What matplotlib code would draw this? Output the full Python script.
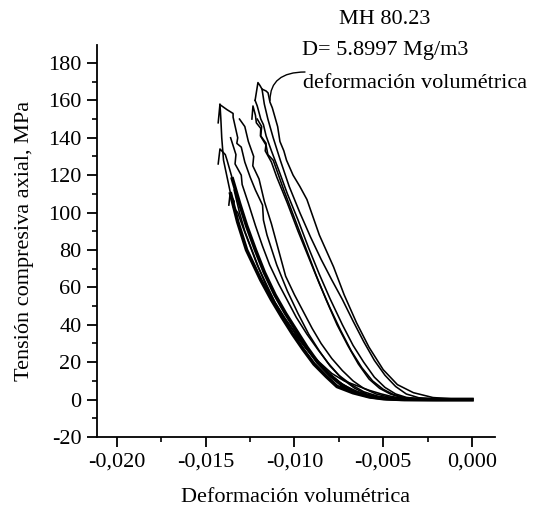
import matplotlib
matplotlib.use("Agg")
import matplotlib.pyplot as plt
from matplotlib.ticker import FuncFormatter, MultipleLocator

plt.rcParams['font.family'] = ['Liberation Serif', 'DejaVu Serif']
plt.rcParams['axes.unicode_minus'] = False

# ---- data: volumetric strain (x) and axial compressive stress, MPa (y) ----
# outer curve (peak ~170 MPa)
O_s = [-0.01222, -0.01206, -0.01195, -0.01183, -0.01160, -0.01149, -0.01138, -0.01125, -0.0111, -0.01095,
       -0.01082, -0.01060, -0.01045, -0.01008, -0.0097, -0.0093, -0.0086, -0.0078, -0.0072, -0.0065, -0.0058,
       -0.0050, -0.0042, -0.0033, -0.0022, -0.0010, 0.0]
O_y = [160, 169.5, 168, 166, 165, 164, 159, 156, 151, 146,
       138, 133, 128, 120, 114, 107, 88, 71, 56, 41, 28,
       16, 8, 3.7, 1.1, 0.3, 0]
# middle group
M1_s = [-0.01240, -0.01234, -0.0122, -0.01215, -0.0119, -0.01192, -0.0116, -0.0115, -0.0112, -0.0109, -0.0106,
        -0.0100, -0.0094, -0.0088, -0.0082, -0.0076, -0.0070, -0.0064, -0.0058, -0.0052, -0.0046, -0.0040,
        -0.0032, -0.0020, 0.0]
M1_y = [150, 157, 152, 148, 145, 141, 136, 131, 128, 120, 112,
        97, 82, 67, 53, 40, 29, 19, 11, 6, 3, 1.2, 0.3, 0, 0]
M1b_s = [-0.0121, -0.01185, -0.0119, -0.0116, -0.01165, -0.0113, -0.0110, -0.0104, -0.0098, -0.0092, -0.0086,
         -0.0080, -0.0074, -0.0068, -0.0062, -0.0056, -0.0050, -0.0044, -0.0038, -0.0030, -0.0018, 0.0]
M1b_y = [150, 146, 141, 137, 133, 127, 119, 105, 90, 76, 62, 49, 37, 26, 17, 10, 5.5, 2.6, 1.0, 0.3, 0, 0]
M2_s = [-0.01222, -0.0121, -0.0119, -0.01175, -0.0116, -0.01145, -0.0113, -0.0109, -0.0104, -0.0098, -0.0092,
        -0.0086, -0.0080, -0.0073, -0.0067, -0.0061, -0.0055, -0.0049, -0.0043, -0.0037, -0.0030, -0.0018, 0.0]
M2_y = [160, 157, 150, 147, 141, 137, 133, 123, 110, 96, 81, 67, 54, 40, 29, 20, 12, 6.5, 3, 1.2, 0.4, 0, 0]
M3_s = [-0.01183, -0.0117, -0.0115, -0.01135, -0.0112, -0.0108, -0.0103, -0.0097, -0.0091, -0.0085, -0.0079,
        -0.0073, -0.0067, -0.0061, -0.0055, -0.0049, -0.0043, -0.0037, -0.0030, -0.0020, 0.0]
M3_y = [166, 158, 150, 145, 140, 128, 114, 100, 87, 75, 64, 53.5, 42, 31, 21, 13, 7, 3, 1, 0.2, 0]
# left group (dense cycles)
LA_s = [-0.0143, -0.0142, -0.01415, -0.0141, -0.0140, -0.0136, -0.0132, -0.0127, -0.0119, -0.0113, -0.0107,
        -0.0101, -0.0095, -0.0089, -0.0082, -0.0076, -0.0067, -0.0058, -0.0050, -0.0040, -0.0020, 0.0]
LA_y = [148, 158, 150, 140, 128, 110, 95, 80, 64, 53.5, 44, 35, 26.7, 19, 12.3, 7, 3.7, 1.5, 0.5, 0.1, 0, 0]
LB_s = [-0.0142, -0.0138, -0.01346, -0.01346, -0.0132, -0.01325, -0.0130, -0.0128, -0.0125, -0.0122, -0.0118,
        -0.01175, -0.01155, -0.0110, -0.0104, -0.0098, -0.0092, -0.0086, -0.0080, -0.0073, -0.0066, -0.0059,
        -0.0050, -0.0040, -0.0025, 0.0]
LB_y = [157.7, 155, 153, 151, 140, 137, 135, 127, 119, 112, 104, 96, 88, 72, 58, 46, 35, 26, 18, 11, 6, 2.8,
        0.8, 0.2, 0, 0]
LC_s = [-0.0143, -0.0142, -0.0139, -0.0138, -0.0135, -0.0131, -0.0127, -0.0122, -0.0117, -0.0111, -0.0105,
        -0.0099, -0.0093, -0.0087, -0.0080, -0.0073, -0.0065, -0.0057, -0.0048, -0.0038, -0.0022, 0.0]
LC_y = [126, 134, 131, 128, 118, 105, 93, 80, 68, 56, 46, 37, 28, 20, 13, 7.5, 3.8, 1.5, 0.5, 0.1, 0, 0]
LD_s = [-0.0137, -0.01363, -0.0134, -0.01345, -0.0132, -0.0129, -0.0125, -0.0121, -0.0116, -0.0111, -0.0105,
        -0.0099, -0.0093, -0.0087, -0.0080, -0.0073, -0.0066, -0.0058, -0.0050, -0.0040, -0.0025, 0.0]
LD_y = [104, 110, 106, 103, 100, 92, 82, 72, 62, 52, 43, 35, 27, 20, 13.5, 8, 4.2, 1.8, 0.6, 0.1, 0, 0]
LE_s = [-0.0136, -0.0133, -0.01335, -0.0130, -0.01295, -0.0126, -0.0122, -0.0118, -0.0114, -0.0109, -0.0104,
        -0.0099, -0.0093, -0.0087, -0.0081, -0.0075, -0.0068, -0.0061, -0.0053, -0.0045, -0.0035, -0.0020, 0.0]
LE_y = [140, 131, 126, 120, 115, 105, 93, 82, 72, 62, 53, 44, 35, 27, 19.5, 13, 8, 4.2, 1.8, 0.6, 0.1, 0, 0]
LF_s = [-0.0131, -0.0128, -0.0126, -0.0123, -0.01235, -0.0120, -0.0117, -0.0113, -0.0109, -0.0105, -0.0100,
        -0.0095, -0.0090, -0.0085, -0.0079, -0.0073, -0.0067, -0.0061, -0.0054, -0.0046, -0.0038, -0.0028,
        -0.0015, 0.0]
LF_y = [150, 146, 138, 130, 125, 118, 106, 94, 80, 66, 56, 47, 38, 30, 22, 15.5, 10, 6, 3, 1.2, 0.4, 0.1, 0, 0]
LG_s = [-0.0100, -0.0093, -0.0086, -0.0079, -0.0072, -0.0065, -0.0058, -0.0051, -0.0045, -0.0038, -0.0030, 0.0]
LG_y = [35, 27, 20, 14, 10, 7.5, 5, 3, 1.6, 0.6, 0.1, 0]
LH_s = [-0.0134, -0.0131, -0.0128, -0.0124, -0.0120, -0.0116, -0.0111, -0.0106, -0.0100, -0.0094, -0.0088,
        -0.0082, -0.0075, -0.0068, -0.0060, -0.0052, -0.0044, -0.0034, -0.0020, 0.0]
LH_y = [112, 100, 90, 80, 70, 61, 52, 44, 36, 28, 21, 15, 9.5, 5.5, 2.6, 1.0, 0.3, 0.1, 0, 0]

x_ticks = [-0.020, -0.015, -0.010, -0.005, 0.000]
y_ticks = [-20, 0, 20, 40, 60, 80, 100, 120, 140, 160, 180]

title_lines = ["MH 80.23", "D= 5.8997 Mg/m3"]
curve_label = "deformación volumétrica"

# ---- figure ----
W, H = 546, 519
fig = plt.figure(figsize=(W / 100, H / 100), dpi=100)
ax = fig.add_axes([97 / W, 1 - 437 / H, (495 - 97) / W, (437 - 45) / H])

thin = [(O_s, O_y), (M1_s, M1_y), (M1b_s, M1b_y), (M2_s, M2_y), (M3_s, M3_y),
        (LA_s, LA_y), (LC_s, LC_y),
        (LB_s, LB_y), (LD_s, LD_y), (LE_s, LE_y), (LF_s, LF_y), (LG_s, LG_y), (LH_s, LH_y)]
for s, y in thin:
    ax.plot(s, y, color='black', lw=1.15)
# dense (solid-looking) lower part of the left band
for s, y in [(LA_s[5:], LA_y[5:]), (LC_s[4:], LC_y[4:])]:
    ax.plot(s, y, color='black', lw=2.6)

ax.set_xlim(-0.02113, 0.0013)
ax.set_ylim(-20, 189.6)

for sp in ['top', 'right']:
    ax.spines[sp].set_visible(False)
for sp in ['left', 'bottom']:
    ax.spines[sp].set_linewidth(1.3)

ax.set_xticks(x_ticks)
ax.set_yticks(y_ticks)
ax.xaxis.set_minor_locator(MultipleLocator(0.0025))
ax.yaxis.set_minor_locator(MultipleLocator(10))
ax.xaxis.set_major_formatter(FuncFormatter(lambda v, p: f"{v:.3f}".replace('.', ',')))
ax.yaxis.set_major_formatter(FuncFormatter(lambda v, p: f"{v:.0f}"))
ax.tick_params(which='major', direction='out', length=7, width=1.3, labelsize=16, pad=4)
ax.tick_params(which='minor', direction='out', length=3.5, width=1.2)

ax.set_xlabel("Deformación volumétrica", fontsize=16, labelpad=12)
ax.set_ylabel("Tensión compresiva axial, MPa", fontsize=16, labelpad=10)

fig.text(385 / W, 1 - 19 / H, title_lines[0], ha='center', va='center', fontsize=16)
fig.text(385 / W, 1 - 51 / H, title_lines[1], ha='center', va='center', fontsize=16)
fig.text(415 / W, 1 - 84 / H, curve_label, ha='center', va='center', fontsize=16)

ax.annotate('', xy=(-0.01138, 160), xycoords='data',
            xytext=(305 / W, 1 - 72 / H), textcoords='figure fraction',
            arrowprops=dict(arrowstyle='-', lw=1.0, color='black',
                            connectionstyle='angle3,angleA=0,angleB=90',
                            shrinkA=0, shrinkB=0))

fig.savefig("out.png", dpi=100)
